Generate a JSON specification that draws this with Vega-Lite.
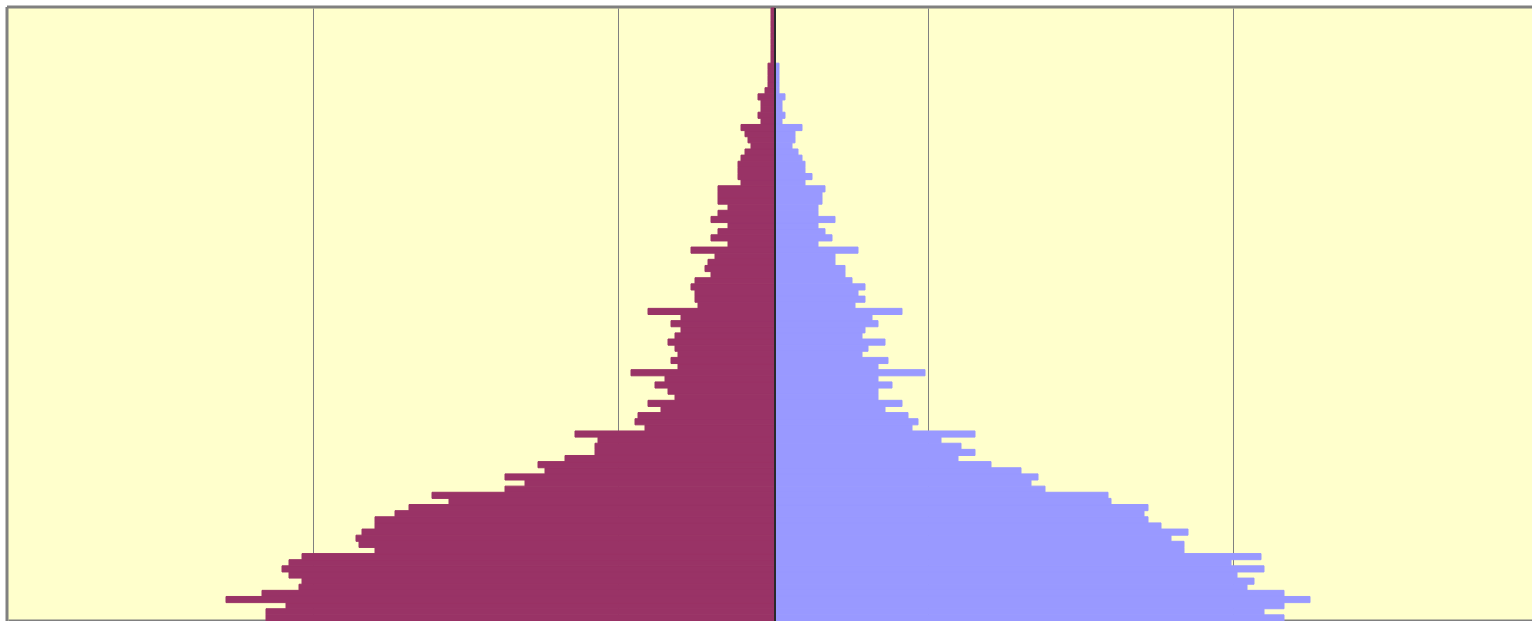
{
  "$schema": "https://vega.github.io/schema/vega-lite/v6.json",
  "width": 1524,
  "height": 613,
  "padding": {"left": 8, "top": 8, "right": 0, "bottom": 0},
  "autosize": {"type": "none"},
  "background": "white",
  "config": {"view": {"fill": "#FFFFCC", "stroke": null}},
  "datasets": {
    "pyramid": [
      {"age":0,"sex":"Male","pop":-509},{"age":0,"sex":"Female","pop":509},
      {"age":1,"sex":"Male","pop":-509},{"age":1,"sex":"Female","pop":489},
      {"age":2,"sex":"Male","pop":-489},{"age":2,"sex":"Female","pop":509},
      {"age":3,"sex":"Male","pop":-549},{"age":3,"sex":"Female","pop":535},
      {"age":4,"sex":"Male","pop":-513},{"age":4,"sex":"Female","pop":509},
      {"age":5,"sex":"Male","pop":-476},{"age":5,"sex":"Female","pop":472},
      {"age":6,"sex":"Male","pop":-473},{"age":6,"sex":"Female","pop":479},
      {"age":7,"sex":"Male","pop":-486},{"age":7,"sex":"Female","pop":462},
      {"age":8,"sex":"Male","pop":-493},{"age":8,"sex":"Female","pop":489},
      {"age":9,"sex":"Male","pop":-486},{"age":9,"sex":"Female","pop":456},
      {"age":10,"sex":"Male","pop":-473},{"age":10,"sex":"Female","pop":486},
      {"age":11,"sex":"Male","pop":-400},{"age":11,"sex":"Female","pop":409},
      {"age":12,"sex":"Male","pop":-416},{"age":12,"sex":"Female","pop":409},
      {"age":13,"sex":"Male","pop":-419},{"age":13,"sex":"Female","pop":396},
      {"age":14,"sex":"Male","pop":-413},{"age":14,"sex":"Female","pop":413},
      {"age":15,"sex":"Male","pop":-400},{"age":15,"sex":"Female","pop":386},
      {"age":16,"sex":"Male","pop":-400},{"age":16,"sex":"Female","pop":373},
      {"age":17,"sex":"Male","pop":-380},{"age":17,"sex":"Female","pop":369},
      {"age":18,"sex":"Male","pop":-366},{"age":18,"sex":"Female","pop":373},
      {"age":19,"sex":"Male","pop":-326},{"age":19,"sex":"Female","pop":336},
      {"age":20,"sex":"Male","pop":-343},{"age":20,"sex":"Female","pop":333},
      {"age":21,"sex":"Male","pop":-270},{"age":21,"sex":"Female","pop":270},
      {"age":22,"sex":"Male","pop":-250},{"age":22,"sex":"Female","pop":256},
      {"age":23,"sex":"Male","pop":-270},{"age":23,"sex":"Female","pop":263},
      {"age":24,"sex":"Male","pop":-230},{"age":24,"sex":"Female","pop":246},
      {"age":25,"sex":"Male","pop":-237},{"age":25,"sex":"Female","pop":216},
      {"age":26,"sex":"Male","pop":-210},{"age":26,"sex":"Female","pop":183},
      {"age":27,"sex":"Male","pop":-180},{"age":27,"sex":"Female","pop":200},
      {"age":28,"sex":"Male","pop":-180},{"age":28,"sex":"Female","pop":186},
      {"age":29,"sex":"Male","pop":-177},{"age":29,"sex":"Female","pop":166},
      {"age":30,"sex":"Male","pop":-200},{"age":30,"sex":"Female","pop":200},
      {"age":31,"sex":"Male","pop":-130},{"age":31,"sex":"Female","pop":137},
      {"age":32,"sex":"Male","pop":-140},{"age":32,"sex":"Female","pop":143},
      {"age":33,"sex":"Male","pop":-137},{"age":33,"sex":"Female","pop":133},
      {"age":34,"sex":"Male","pop":-114},{"age":34,"sex":"Female","pop":110},
      {"age":35,"sex":"Male","pop":-127},{"age":35,"sex":"Female","pop":127},
      {"age":36,"sex":"Male","pop":-100},{"age":36,"sex":"Female","pop":103},
      {"age":37,"sex":"Male","pop":-107},{"age":37,"sex":"Female","pop":103},
      {"age":38,"sex":"Male","pop":-120},{"age":38,"sex":"Female","pop":117},
      {"age":39,"sex":"Male","pop":-110},{"age":39,"sex":"Female","pop":103},
      {"age":40,"sex":"Male","pop":-144},{"age":40,"sex":"Female","pop":150},
      {"age":41,"sex":"Male","pop":-97},{"age":41,"sex":"Female","pop":103},
      {"age":42,"sex":"Male","pop":-104},{"age":42,"sex":"Female","pop":113},
      {"age":43,"sex":"Male","pop":-97},{"age":43,"sex":"Female","pop":87},
      {"age":44,"sex":"Male","pop":-100},{"age":44,"sex":"Female","pop":93},
      {"age":45,"sex":"Male","pop":-107},{"age":45,"sex":"Female","pop":110},
      {"age":46,"sex":"Male","pop":-100},{"age":46,"sex":"Female","pop":87},
      {"age":47,"sex":"Male","pop":-94},{"age":47,"sex":"Female","pop":90},
      {"age":48,"sex":"Male","pop":-104},{"age":48,"sex":"Female","pop":103},
      {"age":49,"sex":"Male","pop":-94},{"age":49,"sex":"Female","pop":97},
      {"age":50,"sex":"Male","pop":-127},{"age":50,"sex":"Female","pop":127},
      {"age":51,"sex":"Male","pop":-77},{"age":51,"sex":"Female","pop":80},
      {"age":52,"sex":"Male","pop":-80},{"age":52,"sex":"Female","pop":90},
      {"age":53,"sex":"Male","pop":-80},{"age":53,"sex":"Female","pop":83},
      {"age":54,"sex":"Male","pop":-84},{"age":54,"sex":"Female","pop":90},
      {"age":55,"sex":"Male","pop":-80},{"age":55,"sex":"Female","pop":77},
      {"age":56,"sex":"Male","pop":-64},{"age":56,"sex":"Female","pop":70},
      {"age":57,"sex":"Male","pop":-70},{"age":57,"sex":"Female","pop":70},
      {"age":58,"sex":"Male","pop":-67},{"age":58,"sex":"Female","pop":60},
      {"age":59,"sex":"Male","pop":-60},{"age":59,"sex":"Female","pop":60},
      {"age":60,"sex":"Male","pop":-84},{"age":60,"sex":"Female","pop":83},
      {"age":61,"sex":"Male","pop":-47},{"age":61,"sex":"Female","pop":43},
      {"age":62,"sex":"Male","pop":-64},{"age":62,"sex":"Female","pop":57},
      {"age":63,"sex":"Male","pop":-57},{"age":63,"sex":"Female","pop":50},
      {"age":64,"sex":"Male","pop":-47},{"age":64,"sex":"Female","pop":43},
      {"age":65,"sex":"Male","pop":-64},{"age":65,"sex":"Female","pop":60},
      {"age":66,"sex":"Male","pop":-57},{"age":66,"sex":"Female","pop":43},
      {"age":67,"sex":"Male","pop":-47},{"age":67,"sex":"Female","pop":43},
      {"age":68,"sex":"Male","pop":-57},{"age":68,"sex":"Female","pop":47},
      {"age":69,"sex":"Male","pop":-57},{"age":69,"sex":"Female","pop":47},
      {"age":70,"sex":"Male","pop":-57},{"age":70,"sex":"Female","pop":50},
      {"age":71,"sex":"Male","pop":-34},{"age":71,"sex":"Female","pop":30},
      {"age":72,"sex":"Male","pop":-37},{"age":72,"sex":"Female","pop":37},
      {"age":73,"sex":"Male","pop":-37},{"age":73,"sex":"Female","pop":30},
      {"age":74,"sex":"Male","pop":-37},{"age":74,"sex":"Female","pop":30},
      {"age":75,"sex":"Male","pop":-34},{"age":75,"sex":"Female","pop":27},
      {"age":76,"sex":"Male","pop":-30},{"age":76,"sex":"Female","pop":23},
      {"age":77,"sex":"Male","pop":-24},{"age":77,"sex":"Female","pop":17},
      {"age":78,"sex":"Male","pop":-27},{"age":78,"sex":"Female","pop":20},
      {"age":79,"sex":"Male","pop":-30},{"age":79,"sex":"Female","pop":20},
      {"age":80,"sex":"Male","pop":-34},{"age":80,"sex":"Female","pop":27},
      {"age":81,"sex":"Male","pop":-14},{"age":81,"sex":"Female","pop":7},
      {"age":82,"sex":"Male","pop":-17},{"age":82,"sex":"Female","pop":10},
      {"age":83,"sex":"Male","pop":-14},{"age":83,"sex":"Female","pop":7},
      {"age":84,"sex":"Male","pop":-14},{"age":84,"sex":"Female","pop":7},
      {"age":85,"sex":"Male","pop":-17},{"age":85,"sex":"Female","pop":10},
      {"age":86,"sex":"Male","pop":-10},{"age":86,"sex":"Female","pop":4},
      {"age":87,"sex":"Male","pop":-7},{"age":87,"sex":"Female","pop":4},
      {"age":88,"sex":"Male","pop":-7},{"age":88,"sex":"Female","pop":4},
      {"age":89,"sex":"Male","pop":-7},{"age":89,"sex":"Female","pop":4},
      {"age":90,"sex":"Male","pop":-7},{"age":90,"sex":"Female","pop":4},
      {"age":91,"sex":"Male","pop":-4},{"age":91,"sex":"Female","pop":0},
      {"age":92,"sex":"Male","pop":-4},{"age":92,"sex":"Female","pop":0},
      {"age":93,"sex":"Male","pop":-4},{"age":93,"sex":"Female","pop":0},
      {"age":94,"sex":"Male","pop":-4},{"age":94,"sex":"Female","pop":0},
      {"age":95,"sex":"Male","pop":-4},{"age":95,"sex":"Female","pop":0},
      {"age":96,"sex":"Male","pop":-4},{"age":96,"sex":"Female","pop":0},
      {"age":97,"sex":"Male","pop":-4},{"age":97,"sex":"Female","pop":0},
      {"age":98,"sex":"Male","pop":-4},{"age":98,"sex":"Female","pop":0},
      {"age":99,"sex":"Male","pop":-4},{"age":99,"sex":"Female","pop":0}
    ],
    "centre": [{"pop": 0}]
  },
  "layer": [
    {
      "data": {"name": "pyramid"},
      "mark": {"type": "bar", "orient": "horizontal", "strokeWidth": 1},
      "encoding": {
        "y": {
          "field": "age", "type": "ordinal", "sort": "descending",
          "scale": {"paddingInner": 0, "paddingOuter": 0},
          "axis": {"orient": "left", "title": null, "labels": false, "ticks": false,
                   "domain": true, "domainColor": "#808080", "domainWidth": 3,
                   "domainCap": "square", "offset": 1.5, "grid": false}
        },
        "x": {
          "field": "pop", "type": "quantitative",
          "scale": {"domain": [-767, 757], "nice": false, "zero": false},
          "axis": {"orient": "top", "title": null, "labels": false, "ticks": false,
                   "domain": true, "domainColor": "#808080", "domainWidth": 3,
                   "domainCap": "square", "offset": 1.5,
                   "grid": true, "gridColor": "#808080", "gridWidth": 1, "gridOpacity": 1,
                   "values": [-462, -157, 153, 458]}
        },
        "color": {
          "field": "sex", "type": "nominal",
          "scale": {"domain": ["Male", "Female"], "range": ["#993366", "#9999FF"]},
          "legend": null
        },
        "stroke": {
          "field": "sex", "type": "nominal",
          "scale": {"domain": ["Male", "Female"], "range": ["#993366", "#9999FF"]},
          "legend": null
        }
      }
    },
    {
      "data": {"name": "centre"},
      "mark": {"type": "rule", "color": "#2a2a2a", "strokeWidth": 2},
      "encoding": {
        "x": {
          "field": "pop", "type": "quantitative",
          "axis": {"orient": "bottom", "title": null, "labels": false, "ticks": false,
                   "domain": true, "domainColor": "#808080", "domainWidth": 2,
                   "offset": -1, "grid": false}
        }
      }
    }
  ],
  "resolve": {"axis": {"x": "independent"}}
}
